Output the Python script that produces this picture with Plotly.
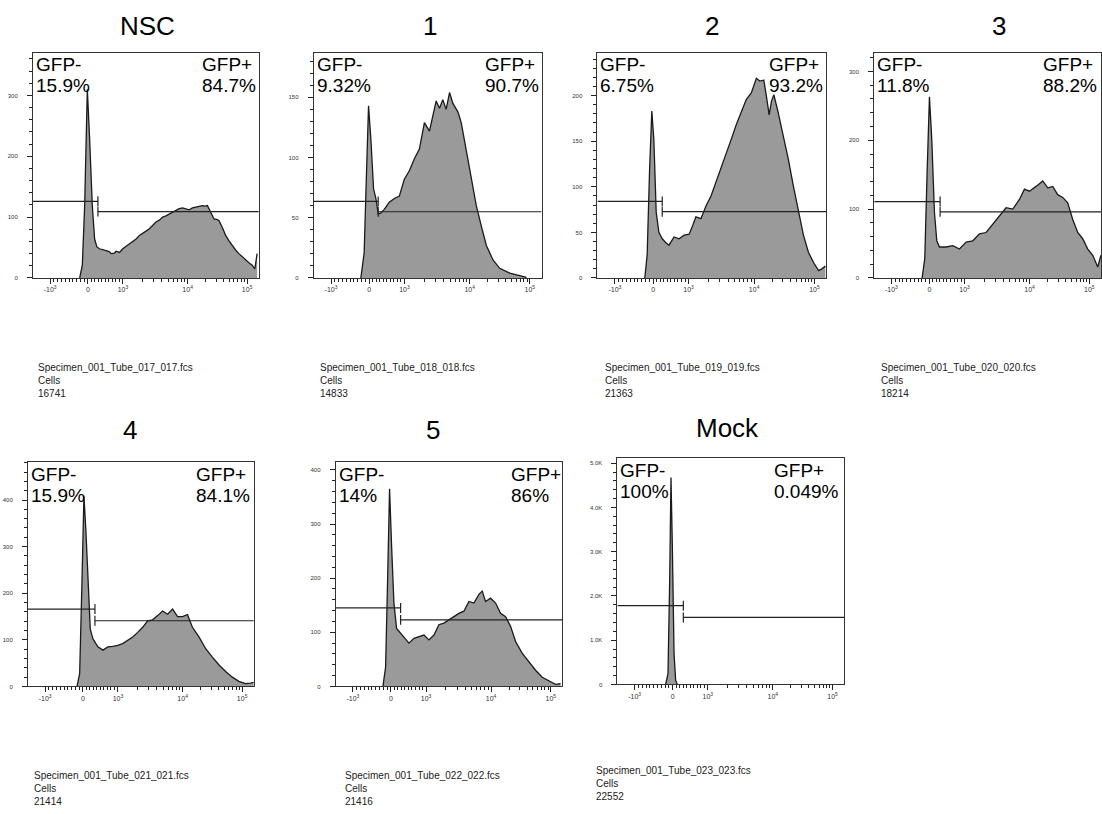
import numpy as np
import plotly.graph_objects as go

W, H = 1102, 814

# ---------------- data ----------------
titles = ["NSC", "1", "2", "3", "4", "5", "Mock"]
neg_pct = ["15.9%", "9.32%", "6.75%", "11.8%", "15.9%", "14%", "100%"]
pos_pct = ["84.7%", "90.7%", "93.2%", "88.2%", "84.1%", "86%", "0.049%"]
files = ["Specimen_001_Tube_017_017.fcs", "Specimen_001_Tube_018_018.fcs",
         "Specimen_001_Tube_019_019.fcs", "Specimen_001_Tube_020_020.fcs",
         "Specimen_001_Tube_021_021.fcs", "Specimen_001_Tube_022_022.fcs",
         "Specimen_001_Tube_023_023.fcs"]
cell_counts = ["16741", "14833", "21363", "18214", "21414", "21416", "22552"]

# histogram channels (biexponential display units) and counts
nsc_x = [-0.128, -0.087, -0.051, -0.010, 0.026, 0.067, 0.103, 0.138, 0.179, 0.231, 0.282, 0.333,
         0.359, 0.410, 0.436, 0.487, 0.538, 0.590, 0.641, 0.692, 0.744, 0.795, 0.846, 0.897, 0.949,
         1.000, 1.051, 1.103, 1.154, 1.205, 1.256, 1.308, 1.359, 1.410, 1.462, 1.513, 1.564, 1.615,
         1.667, 1.718, 1.769, 1.808, 1.846, 1.897, 1.949, 2.000, 2.026, 2.077, 2.128, 2.180, 2.231,
         2.282, 2.333, 2.385, 2.436, 2.487, 2.538, 2.579, 2.615]
nsc_y = [0, 21, 119, 310, 228, 119, 64, 51, 48, 47, 45, 43,
         40, 41, 44, 42, 48, 52, 56, 60, 64, 70, 73, 77, 81,
         86, 92, 95, 100, 102, 105, 109, 111, 114, 115, 113, 112, 115,
         116, 117, 119, 118, 119, 108, 97, 96, 94, 83, 70, 61, 53,
         46, 40, 35, 29, 25, 21, 15, 40]

p1_x = [-0.128, -0.077, -0.041, -0.010, 0.026, 0.067, 0.103, 0.138, 0.179, 0.231, 0.308, 0.385,
        0.462, 0.538, 0.615, 0.692, 0.769, 0.846, 0.923, 0.974, 1.026, 1.077, 1.128, 1.179, 1.231,
        1.282, 1.359, 1.410, 1.487, 1.564, 1.641, 1.718, 1.795, 1.897, 2.000, 2.154, 2.308, 2.410]
p1_y = [0, 21, 88, 143, 115, 74, 66, 53, 54, 57, 63, 66,
        68, 82, 89, 99, 107, 129, 122, 134, 147, 141, 148, 140, 154,
        145, 138, 129, 107, 82, 60, 43, 27, 15, 8, 4, 2, 0.5]

p2_x = [-0.128, -0.092, -0.056, -0.021, 0.010, 0.046, 0.087, 0.138, 0.190, 0.241, 0.318, 0.395,
        0.472, 0.549, 0.600, 0.651, 0.728, 0.805, 0.882, 0.959, 1.036, 1.113, 1.190, 1.267, 1.344,
        1.421, 1.497, 1.574, 1.626, 1.687, 1.728, 1.769, 1.805, 1.841, 1.908, 1.985, 2.062, 2.138,
        2.215, 2.292, 2.369, 2.446, 2.523, 2.574, 2.626]
p2_y = [0, 25, 116, 183, 152, 72, 50, 43, 39, 36, 45, 43,
        47, 48, 57, 67, 65, 79, 90, 105, 121, 137, 152, 168, 183,
        196, 203, 219, 216, 217, 199, 179, 194, 201, 181, 156, 130, 101,
        72, 47, 28, 17, 8, 10, 13]

p3_x = [-0.113, -0.072, -0.036, 0.000, 0.036, 0.077, 0.113, 0.154, 0.256, 0.359, 0.462, 0.564,
        0.667, 0.769, 0.872, 0.974, 1.077, 1.179, 1.282, 1.385, 1.462, 1.538, 1.641, 1.744, 1.821,
        1.897, 1.974, 2.051, 2.128, 2.205, 2.282, 2.359, 2.436, 2.513, 2.590, 2.640]
p3_y = [0, 28, 153, 263, 201, 95, 54, 45, 45, 47, 42, 52,
        54, 64, 66, 78, 90, 102, 100, 114, 129, 126, 133, 141, 131,
        133, 121, 117, 109, 85, 66, 57, 42, 33, 16, 33]

p4_x = [-0.092, -0.051, -0.015, 0.015, 0.046, 0.082, 0.113, 0.154, 0.231, 0.308, 0.385, 0.462,
        0.538, 0.615, 0.692, 0.769, 0.846, 0.923, 1.000, 1.077, 1.154, 1.231, 1.308, 1.385, 1.462,
        1.538, 1.615, 1.692, 1.795, 1.897, 2.000, 2.103, 2.205, 2.308, 2.410, 2.513, 2.590, 2.640]
p4_y = [0, 28, 226, 409, 332, 205, 123, 102, 85, 78, 85, 86,
        88, 92, 99, 106, 116, 127, 141, 143, 152, 162, 155, 166, 150,
        150, 154, 127, 106, 81, 63, 46, 32, 20, 11, 6, 7, 9]

p5_x = [-0.123, -0.082, -0.051, -0.021, 0.010, 0.046, 0.087, 0.149, 0.226, 0.277, 0.354, 0.431,
        0.508, 0.585, 0.662, 0.738, 0.815, 0.892, 0.969, 1.046, 1.123, 1.200, 1.277, 1.354, 1.405,
        1.456, 1.533, 1.610, 1.687, 1.764, 1.841, 1.918, 2.021, 2.123, 2.226, 2.328, 2.431, 2.533,
        2.610]
p5_y = [0, 36, 198, 365, 260, 154, 107, 98, 86, 80, 89, 92,
        95, 86, 95, 114, 117, 123, 129, 135, 139, 157, 154, 170, 176,
        157, 163, 154, 135, 129, 111, 83, 61, 45, 30, 17, 11, 4,
        5]

mock_x = [-0.108, -0.072, -0.046, -0.026, -0.005, 0.021, 0.046, 0.072]
mock_y = [0, 242, 2364, 4674, 3121, 697, 91, 0]

hist_x = [nsc_x, p1_x, p2_x, p3_x, p4_x, p5_x, mock_x]
hist_y = [nsc_y, p1_y, p2_y, p3_y, p4_y, p5_y, mock_y]

# gates: threshold channel, GFP- bar height, GFP+ bar height
gate_x = [0.154, 0.138, 0.138, 0.164, 0.185, 0.149, 0.164]
gate_neg_y = [126, 63.6, 84, 111, 166, 145, 1780]
gate_pos_y = [109, 55, 72.7, 96, 141, 123, 1515]

# axes
y_top = [370, 187, 247, 327, 481, 414, 5110]
y_ticks = [[0, 100, 200, 300], [0, 50, 100, 150], [0, 50, 100, 150, 200], [0, 100, 200, 300],
           [0, 100, 200, 300, 400], [0, 100, 200, 300, 400], [0, 1000, 2000, 3000, 4000, 5000]]
y_ticktext = [None, None, None, None, None, None, ["0", "1.0K", "2.0K", "3.0K", "4.0K", "5.0K"]]
y_minor = [20, 10, 10, 20, 20, 20, 200]

x_tick_pos = [-0.585, 0, 0.54, 1.54, 2.46]
x_tick_text = ["-10<sup>3</sup>", "0", "10<sup>3</sup>", "10<sup>4</sup>", "10<sup>5</sup>"]
x_range = [-0.85, 2.64]


def to_display(v):
    v = np.asarray(v, float)
    a = np.abs(v)
    lin = np.where(v < 0, a / 1000 * 0.585, a / 1000 * 0.54)
    lg = np.interp(np.log10(np.maximum(a, 1)), [3, 4, 5, 6], [0.54, 1.54, 2.46, 3.38])
    out = np.where(a <= 1000, lin, lg)
    return np.where(v < 0, -out, out)


minor_vals = list(range(-900, 0, 100)) + list(range(100, 1000, 100)) + \
    [m * 10 ** e for e in (3, 4) for m in range(2, 10)]
minor_pos = [float(p) for p in to_display(minor_vals) if x_range[0] < p < x_range[1]]

# ---------------- layout (pixel boxes) ----------------
dom_x_px = [(33, 259), (314, 542), (598, 827), (875, 1102), (28, 254), (336, 563), (618, 845)]
dom_y_px = [(53, 279), (53, 279), (53, 279), (53, 279), (464, 689), (464, 689), (460, 687)]
title_px = [(148, 26), (430, 26), (713, 26), (1000, 26), (130, 432), (433, 432), (728, 430)]
gfp_pos_left_px = [202, 485, 770, 1044, 196, 511, 775]
spec_px = [(38, 369), (320, 369), (606, 369), (882, 369), (34, 778), (345, 778), (597, 773)]

FONT = "Liberation Sans, Arial, sans-serif"
fig = go.Figure()
layout = {}
ann = []
shapes = []

for i in range(7):
    sfx = "" if i == 0 else str(i + 1)
    xr, yr = "x" + sfx, "y" + sfx
    x0p, x1p = dom_x_px[i]
    y0p, y1p = dom_y_px[i]

    fig.add_trace(go.Scatter(x=hist_x[i], y=hist_y[i], xaxis=xr, yaxis=yr, mode="lines",
                             fill="tozeroy", fillcolor="#9a9a9a",
                             line=dict(color="#1a1a1a", width=1.3),
                             showlegend=False, hoverinfo="skip"))

    layout["xaxis" + sfx] = dict(
        domain=[x0p / W, x1p / W], range=x_range, anchor=yr,
        showline=True, linecolor="#333", linewidth=1, mirror=True,
        showgrid=False, zeroline=False,
        ticks="outside", ticklen=5, tickwidth=1, tickcolor="#222",
        tickmode="array", tickvals=x_tick_pos, ticktext=x_tick_text,
        tickfont=dict(family=FONT, size=7, color="#333"),
        minor=dict(tickmode="array", tickvals=minor_pos, ticks="outside",
                   ticklen=3, tickwidth=1, tickcolor="#222"),
    )
    yax = dict(
        domain=[1 - y1p / H, 1 - y0p / H], range=[0, y_top[i]], anchor=xr,
        showline=True, linecolor="#333", linewidth=1, mirror=True,
        showgrid=False, zeroline=False,
        ticks="outside", ticklen=5, tickwidth=1, tickcolor="#222",
        tickmode="array", tickvals=y_ticks[i],
        tickfont=dict(family=FONT, size=6, color="#333"),
        ticklabelstandoff=8,
        minor=dict(dtick=y_minor[i], ticks="outside", ticklen=3, tickwidth=1, tickcolor="#222"),
    )
    if y_ticktext[i] is not None:
        yax["ticktext"] = y_ticktext[i]
    layout["yaxis" + sfx] = yax

    # gates
    half = 5.0 / (y1p - y0p) * y_top[i]
    gl = dict(color="#222", width=1.2)
    shapes += [
        dict(type="line", xref=xr, yref=yr, x0=x_range[0], x1=gate_x[i],
             y0=gate_neg_y[i], y1=gate_neg_y[i], line=gl),
        dict(type="line", xref=xr, yref=yr, x0=gate_x[i], x1=gate_x[i],
             y0=gate_neg_y[i] - half, y1=gate_neg_y[i] + half, line=gl),
        dict(type="line", xref=xr, yref=yr, x0=gate_x[i], x1=x_range[1],
             y0=gate_pos_y[i], y1=gate_pos_y[i], line=gl),
        dict(type="line", xref=xr, yref=yr, x0=gate_x[i], x1=gate_x[i],
             y0=gate_pos_y[i] - half, y1=gate_pos_y[i] + half, line=gl),
    ]

    # titles
    tx, ty = title_px[i]
    ann.append(dict(text=titles[i], x=tx / W, y=1 - ty / H, xref="paper", yref="paper",
                    xanchor="center", yanchor="middle", showarrow=False,
                    font=dict(family=FONT, size=26, color="#000")))
    # gate labels
    for txt, px, py, anc in [("GFP-", x0p + 1, y0p + 12, "left"),
                             (neg_pct[i], x0p + 1, y0p + 33, "left"),
                             ("GFP+", gfp_pos_left_px[i] - 2, y0p + 12, "left"),
                             (pos_pct[i], gfp_pos_left_px[i] - 2, y0p + 33, "left")]:
        ann.append(dict(text=txt, x=px / W, y=1 - py / H, xref="paper", yref="paper",
                        xanchor=anc, yanchor="middle", showarrow=False,
                        font=dict(family=FONT, size=19, color="#000")))
    # specimen text
    sx, sy = spec_px[i]
    for k, txt in enumerate([files[i], "Cells", cell_counts[i]]):
        ann.append(dict(text=txt, x=(sx - 2) / W, y=1 - (sy + 13 * k) / H, xref="paper",
                        yref="paper", xanchor="left", yanchor="middle", showarrow=False,
                        font=dict(family=FONT, size=10, color="#222")))

fig.update_layout(width=W, height=H, margin=dict(l=0, r=0, t=0, b=0),
                  paper_bgcolor="white", plot_bgcolor="white",
                  annotations=ann, shapes=shapes, **layout)
fig.write_html("out.html", config={"displayModeBar": False},
               post_script="document.body.style.margin='0';document.body.style.overflow='hidden';")
